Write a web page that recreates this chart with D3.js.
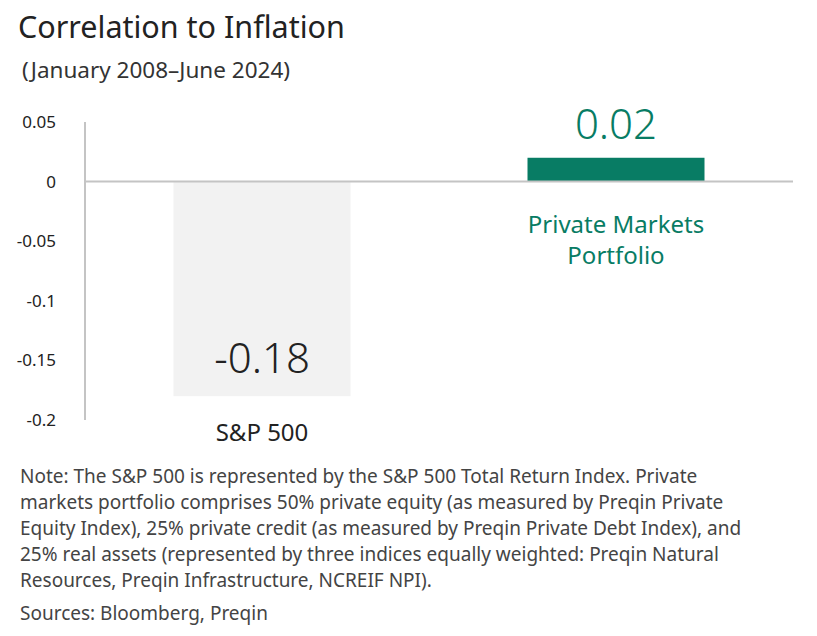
<!DOCTYPE html>
<html><head><meta charset="utf-8">
<script src="https://cdn.jsdelivr.net/npm/d3@7"></script>
<style>body{margin:0;background:#fff;font-family:"Noto Sans",sans-serif;}</style>
</head><body>
<script>
// chart data
var categories = ["S&P 500", "Private Markets Portfolio"];
var values = [-0.18, 0.02];
var valueLabels = ["-0.18", "0.02"];
var yTicks = [0.05, 0, -0.05, -0.1, -0.15, -0.2];
var tickLabels = ["0.05", "0", "-0.05", "-0.1", "-0.15", "-0.2"];

var green = "#087c64";
var svg = d3.select("body").append("svg").attr("width", 817).attr("height", 636);

svg.append("text").attr("x", 18).attr("y", 38).attr("font-size", 30.5).attr("fill", "#222")
    .text("Correlation to Inflation");
svg.append("text").attr("x", 22).attr("y", 78).attr("font-size", 22.5).attr("fill", "#333")
    .text("(January 2008\u2013June 2024)");

var y = d3.scaleLinear().domain([-0.2, 0.05]).range([420, 122]);
var x = d3.scaleBand().domain(categories).range([85, 793]).paddingInner(0.5).paddingOuter(0.25);

// y axis line and tick labels
svg.append("line").attr("x1", 85).attr("x2", 85).attr("y1", 122).attr("y2", 420)
    .attr("stroke", "#c4c4c4").attr("stroke-width", 2);
svg.selectAll(".tick").data(yTicks).enter().append("text")
    .attr("x", 56).attr("y", function(d) { return y(d) + 6; })
    .attr("text-anchor", "end").attr("font-size", 17).attr("fill", "#222")
    .text(function(d, i) { return tickLabels[i]; });

// bars
svg.selectAll(".bar").data(values).enter().append("rect")
    .attr("x", function(d, i) { return x(categories[i]); })
    .attr("width", x.bandwidth())
    .attr("y", function(d) { return y(Math.max(0, d)); })
    .attr("height", function(d) { return Math.abs(y(d) - y(0)); })
    .attr("fill", function(d) { return d < 0 ? "#f2f2f2" : green; });

// zero line
svg.append("line").attr("x1", 85).attr("x2", 793).attr("y1", y(0)).attr("y2", y(0))
    .attr("stroke", "#c4c4c4").attr("stroke-width", 2);

// value labels
var cx = function(i) { return x(categories[i]) + x.bandwidth() / 2; };
svg.append("text").attr("x", cx(0)).attr("y", 373).attr("text-anchor", "middle")
    .attr("font-size", 42).attr("font-weight", 300).attr("fill", "#222").text(valueLabels[0]);
svg.append("text").attr("x", cx(1)).attr("y", 139).attr("text-anchor", "middle")
    .attr("font-size", 42).attr("font-weight", 300).attr("fill", green).text(valueLabels[1]);

// category labels
svg.append("text").attr("x", cx(0)).attr("y", 441).attr("text-anchor", "middle")
    .attr("font-size", 24).attr("fill", "#222").text(categories[0]);
svg.append("text").attr("x", cx(1)).attr("y", 233).attr("text-anchor", "middle")
    .attr("font-size", 24).attr("fill", green).text("Private Markets");
svg.append("text").attr("x", cx(1)).attr("y", 264).attr("text-anchor", "middle")
    .attr("font-size", 24).attr("fill", green).text("Portfolio");

// note
var note = ["Note: The S&P 500 is represented by the S&P 500 Total Return Index. Private",
    "markets portfolio comprises 50% private equity (as measured by Preqin Private",
    "Equity Index), 25% private credit (as measured by Preqin Private Debt Index), and",
    "25% real assets (represented by three indices equally weighted: Preqin Natural",
    "Resources, Preqin Infrastructure, NCREIF NPI)."];
svg.selectAll(".note").data(note).enter().append("text")
    .attr("x", 20).attr("y", function(d, i) { return 483 + i * 26; })
    .attr("font-size", 19).attr("fill", "#444").text(function(d) { return d; });
svg.append("text").attr("x", 20).attr("y", 620).attr("font-size", 19).attr("fill", "#444")
    .text("Sources: Bloomberg, Preqin");
</script>
</body></html>
